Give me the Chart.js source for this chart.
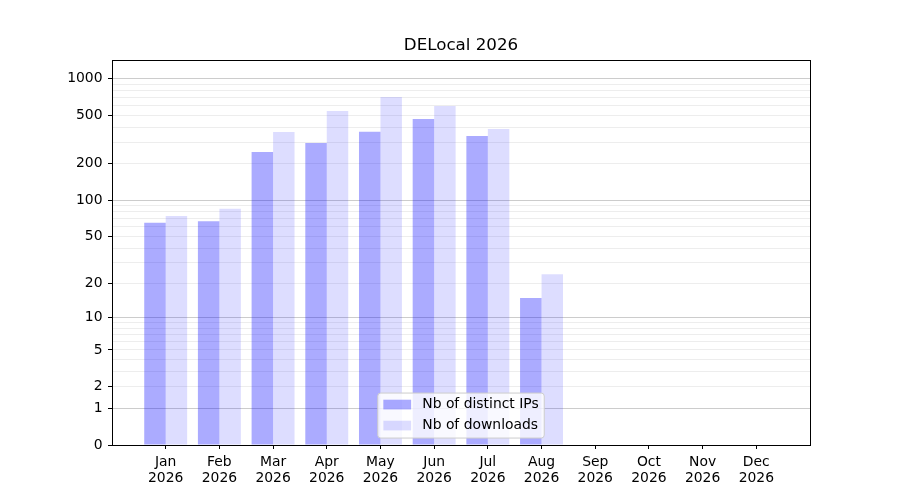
<!DOCTYPE html>
<html>
<head>
<meta charset="utf-8">
<title>DELocal 2026</title>
<script src="https://cdn.jsdelivr.net/npm/chart.js@4.4.1/dist/chart.umd.min.js"></script>
<style>
  body { margin: 0; background: #fff; }
  canvas { display: block; }
</style>
</head>
<body>
<canvas id="chart" width="900" height="500"></canvas>
<script>
// Chart data
const months = ['Jan', 'Feb', 'Mar', 'Apr', 'May', 'Jun', 'Jul', 'Aug', 'Sep', 'Oct', 'Nov', 'Dec'];
const year = '2026';
const distinctIps = [65, 67, 250, 297, 366, 467, 339, 15, 0, 0, 0, 0];
const downloads = [74, 85, 365, 543, 707, 597, 387, 24, 0, 0, 0, 0];
const yTickLabels = [0, 1, 2, 5, 10, 20, 50, 100, 200, 500, 1000];
const yMajorGrid = [1, 10, 100, 1000];
const yMax = 1420;

// gridline positions: every 1..9 step inside each decade
const yGrid = [0];
[1, 10, 100].forEach(d => {
    for (let k = 1; k < 10; k++) yGrid.push(k * d);
});
yGrid.push(1000);

Chart.defaults.font.family = '"DejaVu Sans", sans-serif';
Chart.defaults.font.size = 13.9;
Chart.defaults.color = '#000';

// y axis drawn as log10(1 + value), like a symlog axis
class Log1pScale extends Chart.LinearScale {
    static id = 'log1p';
    static defaults = {};

    buildTicks() {
        return yGrid.map(v => ({ value: v }));
    }

    getPixelForValue(value) {
        const a = Math.log10(1 + this.min);
        const b = Math.log10(1 + this.max);
        return this.getPixelForDecimal((Math.log10(1 + value) - a) / (b - a));
    }

    getValueForPixel(pixel) {
        const a = Math.log10(1 + this.min);
        const b = Math.log10(1 + this.max);
        return Math.pow(10, a + this.getDecimalForPixel(pixel) * (b - a)) - 1;
    }
}
Chart.register(Log1pScale);

// empty slot on each side, like the matplotlib x margins
const labels = [''].concat(months.map(m => [m, year]), ['']);
const pad = arr => [null].concat(arr, [null]);

// Center the title over the plot area, not the whole canvas
const titleOverPlot = {
    id: 'titleOverPlot',
    afterLayout(chart) {
        const t = chart.titleBlock;
        t.left = chart.chartArea.left;
        t.right = chart.chartArea.right;
        t.width = t.right - t.left;
    }
};

// Black frame round the plot area
const frame = {
    id: 'frame',
    afterDraw(chart) {
        const { ctx, chartArea } = chart;
        ctx.save();
        ctx.strokeStyle = '#000';
        ctx.lineWidth = 1;
        ctx.strokeRect(Math.round(chartArea.left) + 0.5, Math.round(chartArea.top) + 0.5,
            Math.round(chartArea.right - chartArea.left), Math.round(chartArea.bottom - chartArea.top));
        ctx.restore();
    }
};

// Legend inside the plot, lower center
const insideLegend = {
    id: 'insideLegend',
    afterDraw(chart) {
        const { ctx, chartArea } = chart;
        const fs = 13.9;
        const items = chart.data.datasets;
        ctx.save();
        ctx.font = fs + 'px "DejaVu Sans"';
        const textW = Math.max(...items.map(d => ctx.measureText(d.label).width));
        const padIn = 0.4 * fs, handleW = 2 * fs, gap = 0.8 * fs, rowH = 21;
        const w = padIn * 2 + handleW + gap + textW;
        const h = 45;
        const x = (chartArea.left + chartArea.right) / 2 - w / 2;
        const y = chartArea.bottom - 0.5 * fs - h;
        ctx.beginPath();
        ctx.roundRect(x, y, w, h, 3);
        ctx.fillStyle = 'rgba(255,255,255,0.8)';
        ctx.fill();
        ctx.strokeStyle = '#cccccc';
        ctx.lineWidth = 1;
        ctx.stroke();
        items.forEach((d, i) => {
            const cy = y + 11.5 + i * rowH;
            ctx.fillStyle = d.backgroundColor;
            ctx.fillRect(x + padIn, cy - 0.35 * fs, handleW, 0.7 * fs);
            ctx.fillStyle = '#000';
            ctx.textBaseline = 'middle';
            ctx.fillText(d.label, x + padIn + handleW + gap, cy);
        });
        ctx.restore();
    }
};

const ctx = document.getElementById('chart').getContext('2d');
new Chart(ctx, {
    type: 'bar',
    data: {
        labels: labels,
        datasets: [{
            label: 'Nb of distinct IPs',
            data: pad(distinctIps),
            backgroundColor: 'rgba(0, 0, 255, 0.33)',
            borderWidth: 0
        }, {
            label: 'Nb of downloads',
            data: pad(downloads),
            backgroundColor: 'rgba(0, 0, 255, 0.135)',
            borderWidth: 0
        }]
    },
    options: {
        responsive: false,
        animation: false,
        devicePixelRatio: 1,
        datasets: {
            bar: { categoryPercentage: 0.8, barPercentage: 1.0 }
        },
        layout: { padding: { top: 36, right: 90, bottom: 0, left: 0 } },
        plugins: {
            legend: { display: false },
            tooltip: { enabled: false },
            title: {
                display: true,
                text: 'DELocal 2026',
                color: '#000',
                font: { size: 16.7, weight: 'normal', lineHeight: 1.2 },
                padding: { top: 0, bottom: 4 }
            }
        },
        scales: {
            x: {
                offset: false,
                border: { display: false },
                grid: {
                    offset: false,
                    drawOnChartArea: false,
                    drawTicks: true,
                    tickLength: 4,
                    tickColor: c => (c.tick && c.tick.label !== '' ? '#000' : 'transparent')
                },
                ticks: {
                    autoSkip: false,
                    maxRotation: 0,
                    padding: 5,
                    font: { lineHeight: 1.15 }
                },
                afterFit: s => { s.height = 55; }
            },
            y: {
                type: 'log1p',
                min: 0,
                max: yMax,
                border: { display: false },
                grid: {
                    color: c => {
                        const v = c.tick ? c.tick.value : 0;
                        if (v === 0) return 'transparent';
                        return yMajorGrid.includes(v) ? 'rgba(0,0,0,0.2)' : 'rgba(0,0,0,0.07)';
                    },
                    drawTicks: true,
                    tickLength: 4,
                    tickColor: c => (c.tick && yTickLabels.includes(c.tick.value) ? '#000' : 'transparent')
                },
                ticks: {
                    autoSkip: false,
                    padding: 5.5,
                    callback: v => (yTickLabels.includes(v) ? String(v) : '')
                },
                afterFit: s => { s.width = 112; }
            }
        }
    },
    plugins: [titleOverPlot, frame, insideLegend]
});
</script>
</body>
</html>
